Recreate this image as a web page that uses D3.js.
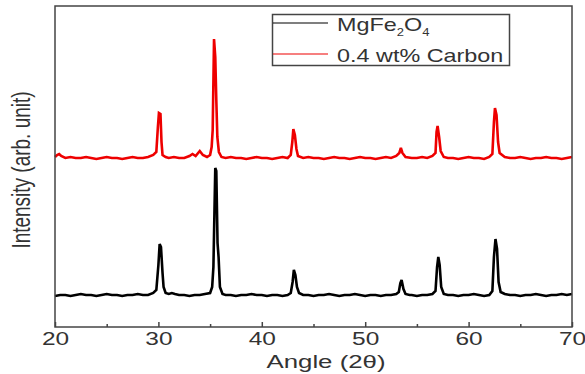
<!DOCTYPE html>
<html>
<head>
<meta charset="utf-8">
<script src="https://cdnjs.cloudflare.com/ajax/libs/d3/7.8.5/d3.min.js"></script>
<style>
    body { margin: 0; background: #fff; }
    text { font-family: "Liberation Sans", Arial, sans-serif; fill: #333; }
</style>
</head>
<body>
<div id="chart"></div>
<script>
// XRD patterns (intensity in arbitrary units, red trace offset upwards)
var angleBlack = [20.0, 20.5, 21.0, 21.5, 22.0, 22.5, 23.0, 23.5, 24.0, 24.5, 25.0, 25.5, 26.0, 26.5, 27.0, 27.5,
    28.0, 28.5, 29.0, 29.5, 29.8, 30.0, 30.12, 30.25, 30.4, 30.5, 30.7, 31.0, 31.3, 31.6, 32.0, 32.5, 33.0,
    33.5, 34.0, 34.5, 35.0, 35.2, 35.32, 35.5, 35.6, 35.72, 35.82, 35.95, 36.2, 36.5, 37.0, 37.5, 38.0, 38.5,
    39.0, 39.5, 40.0, 40.5, 41.0, 41.5, 42.0, 42.5, 42.8, 42.98, 43.1, 43.25, 43.4, 43.6, 44.0, 44.5, 45.0,
    45.5, 46.0, 46.5, 47.0, 47.5, 48.0, 48.5, 49.0, 49.5, 50.0, 50.5, 51.0, 51.5, 52.0, 52.5, 53.0, 53.25,
    53.4, 53.52, 53.7, 53.9, 54.3, 54.5, 55.0, 55.5, 56.0, 56.5, 56.8, 56.95, 57.07, 57.2, 57.35, 57.6, 58.0,
    58.5, 59.0, 59.5, 60.0, 60.5, 61.0, 61.5, 62.0, 62.3, 62.45, 62.6, 62.75, 62.9, 63.1, 63.5, 64.0, 64.5,
    65.0, 65.5, 66.0, 66.5, 67.0, 67.5, 68.0, 68.5, 69.0, 69.5, 70.0];
var intBlack = [31, 32, 32, 31, 32, 33, 32, 32, 31, 32, 33, 32, 32, 31, 32, 32,
    33, 32, 32, 34, 37, 62, 83, 80, 54, 40, 34, 33, 34, 33, 32, 32, 31,
    32, 32, 33, 34, 40, 60, 159, 156, 84, 70, 40, 33, 32, 32, 31, 32, 32,
    33, 32, 32, 31, 32, 32, 31, 32, 34, 45, 57, 52, 40, 34, 32, 32, 31,
    32, 32, 33, 32, 31, 32, 32, 33, 32, 31, 32, 32, 31, 32, 32, 33, 35,
    44, 47, 38, 33, 32, 32, 31, 32, 32, 33, 36, 60, 70, 62, 40, 33, 32,
    32, 31, 32, 32, 33, 32, 31, 32, 36, 70, 88, 78, 45, 35, 33, 32, 32,
    31, 32, 32, 33, 32, 31, 32, 32, 33, 32, 33];

var angleRed = [20.0, 20.2, 20.4, 20.6, 21.0, 21.5, 22.0, 22.5, 23.0, 23.5, 24.0, 24.5, 25.0, 25.5, 26.0, 26.5,
    27.0, 27.5, 28.0, 28.5, 29.0, 29.5, 29.8, 29.95, 30.05, 30.2, 30.3, 30.4, 30.7, 31.0, 31.5, 32.0, 32.5,
    33.0, 33.3, 33.6, 34.0, 34.3, 34.7, 35.0, 35.15, 35.25, 35.38, 35.5, 35.6, 35.7, 35.85, 36.1, 36.5, 37.0,
    37.5, 38.0, 38.5, 39.0, 39.5, 40.0, 40.5, 41.0, 41.5, 42.0, 42.5, 42.8, 42.95, 43.05, 43.2, 43.35, 43.5,
    44.0, 44.5, 45.0, 45.5, 46.0, 46.5, 47.0, 47.5, 48.0, 48.5, 49.0, 49.5, 50.0, 50.5, 51.0, 51.5, 52.0,
    52.5, 53.0, 53.3, 53.45, 53.6, 53.9, 54.5, 55.0, 55.5, 56.0, 56.5, 56.8, 56.9, 57.0, 57.15, 57.3, 57.6,
    58.0, 58.5, 59.0, 59.5, 60.0, 60.5, 61.0, 61.5, 62.0, 62.3, 62.45, 62.55, 62.7, 62.85, 63.0, 63.5, 64.0,
    64.5, 65.0, 65.5, 66.0, 66.5, 67.0, 67.5, 68.0, 68.5, 69.0, 69.5, 70.0];
var intRed = [170, 172, 173, 171, 169, 170, 169, 169, 170, 169, 168, 169, 170, 169, 169, 168,
    169, 170, 169, 169, 170, 172, 175, 200, 214, 213, 185, 172, 170, 169, 170, 169, 169,
    171, 173, 171, 176, 172, 170, 172, 180, 197, 288, 270, 227, 190, 175, 170, 169, 170,
    169, 169, 168, 169, 170, 169, 169, 168, 169, 170, 169, 172, 185, 198, 192, 178, 171,
    169, 170, 169, 169, 168, 169, 170, 169, 169, 168, 169, 170, 169, 169, 168, 169, 170,
    169, 171, 174, 179, 174, 170, 169, 169, 170, 169, 171, 174, 195, 201, 190, 176, 170,
    169, 169, 168, 169, 170, 169, 169, 168, 170, 173, 205, 219, 212, 185, 174, 170, 169,
    169, 170, 169, 168, 169, 169, 170, 169, 169, 168, 169, 170];

var majorTicks = [20, 30, 40, 50, 60, 70];
var minorTicks = [25, 35, 45, 55, 65];
var seriesNames = ["MgFe2O4", "0.4 wt% Carbon"];
var seriesColors = ["#000", "#ee0000"];

var xrd_chart = (function () {
    var width = 585, height = 374;
    var margin = {top: 6, right: 13, bottom: 47, left: 55};
    var stretch = 1.36; // the figure is squashed wide, so is its lettering

    return {
        draw: function (placement) {
            var svg = d3.select(placement).append("svg")
                .attr("width", width)
                .attr("height", height);

            var x = d3.scaleLinear().domain([20, 70]).range([margin.left, width - margin.right]);
            var y = d3.scaleLinear().domain([0, 321]).range([height - margin.bottom, margin.top]);

            var line = d3.line()
                .x(function (d) { return x(d[0]); })
                .y(function (d) { return y(d[1]); });

            var series = [d3.zip(angleBlack, intBlack), d3.zip(angleRed, intRed)];

            svg.selectAll("path.trace")
                .data(series)
                .enter().append("path")
                .attr("class", "trace")
                .attr("d", line)
                .attr("fill", "none")
                .attr("stroke", function (d, i) { return seriesColors[i]; })
                .attr("stroke-width", 2.6)
                .attr("stroke-linejoin", "miter")
                .attr("stroke-miterlimit", 3);

            // frame
            svg.append("rect")
                .attr("x", margin.left)
                .attr("y", margin.top)
                .attr("width", width - margin.left - margin.right)
                .attr("height", height - margin.top - margin.bottom)
                .attr("fill", "none")
                .attr("stroke", "#444")
                .attr("stroke-width", 1.5);

            var xAxis = svg.append("g")
                .attr("transform", "translate(0," + (height - margin.bottom) + ")")
                .call(d3.axisBottom(x).tickValues(majorTicks).tickSize(-5).tickPadding(5).tickFormat(d3.format("d")));
            xAxis.select(".domain").remove();
            xAxis.selectAll("line").attr("stroke", "#444").attr("stroke-width", 1.5);
            xAxis.selectAll("text")
                .attr("font-size", 18)
                .attr("fill", "#333")
                .attr("font-family", "Liberation Sans, Arial, sans-serif")
                .attr("transform", "scale(" + stretch + ",1)");

            var xMinor = svg.append("g")
                .attr("transform", "translate(0," + (height - margin.bottom) + ")")
                .call(d3.axisBottom(x).tickValues(minorTicks).tickSize(-3).tickFormat(""));
            xMinor.select(".domain").remove();
            xMinor.selectAll("line").attr("stroke", "#444").attr("stroke-width", 1.5);

            svg.append("text")
                .attr("transform", "translate(326,368) scale(" + stretch + ",1)")
                .attr("text-anchor", "middle")
                .attr("font-size", 19)
                .text("Angle (2\u03b8)");

            svg.append("text")
                .attr("transform", "translate(30,170) rotate(-90) scale(1," + stretch + ")")
                .attr("text-anchor", "middle")
                .attr("font-size", 19)
                .text("Intensity (arb. unit)");

            // legend
            var legend = svg.append("g");
            legend.append("rect")
                .attr("x", 272.5).attr("y", 14.5)
                .attr("width", 237).attr("height", 51)
                .attr("fill", "#fff")
                .attr("stroke", "#444")
                .attr("stroke-width", 1.5);

            var rows = legend.selectAll("g.row")
                .data(seriesNames)
                .enter().append("g")
                .attr("class", "row")
                .attr("transform", function (d, i) { return "translate(273," + (23 + i * 31) + ")"; });

            rows.append("line")
                .attr("x1", 0).attr("x2", 55)
                .attr("stroke", function (d, i) { return seriesColors[i]; })
                .attr("stroke-width", 1.2);

            var label = rows.append("text")
                .attr("transform", "translate(64,8) scale(1.3,1)")
                .attr("font-size", 18);

            label.filter(function (d, i) { return i === 0; })
                .each(function () {
                    var t = d3.select(this);
                    t.append("tspan").text("MgFe");
                    t.append("tspan").attr("font-size", 10).attr("dy", 5).text("2");
                    t.append("tspan").attr("dy", -5).text("O");
                    t.append("tspan").attr("font-size", 10).attr("dy", 5).text("4");
                });
            label.filter(function (d, i) { return i === 1; })
                .text(function (d) { return d; });
        }
    }
})();

xrd_chart.draw("#chart");
</script>
</body>
</html>
